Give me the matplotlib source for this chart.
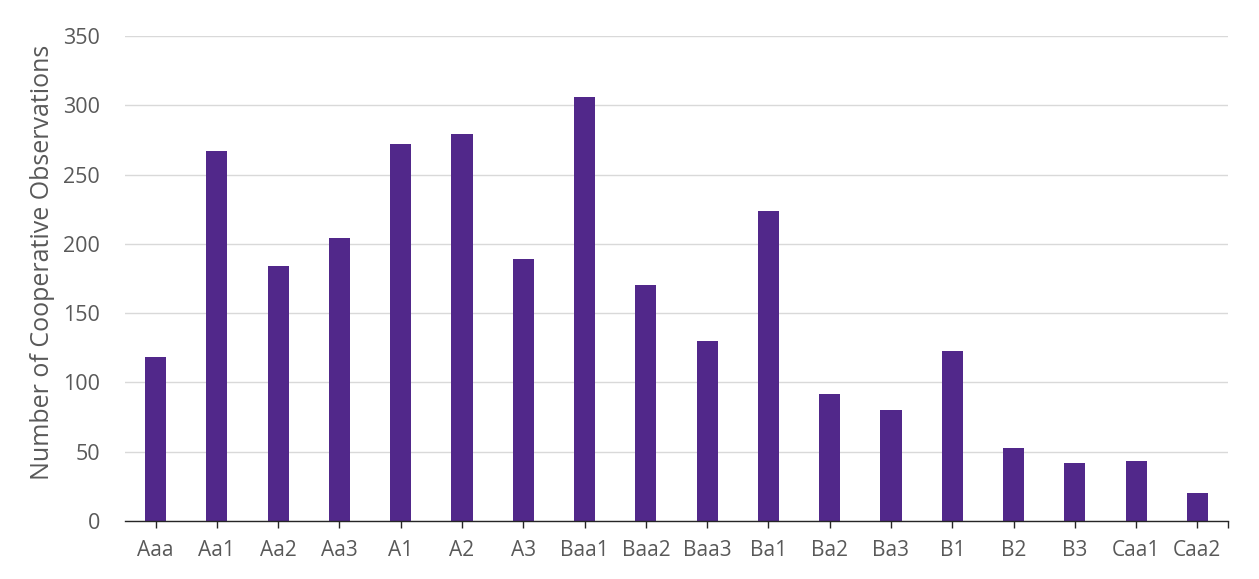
import matplotlib
matplotlib.use("Agg")
import matplotlib.pyplot as plt
import numpy as np

plt.rcParams["font.family"] = ["Open Sans", "DejaVu Sans"]

# ─── data ────────────────────────────────────────────────────────────────────
ratings = ["Aaa", "Aa1", "Aa2", "Aa3", "A1", "A2", "A3", "Baa1", "Baa2",
           "Baa3", "Ba1", "Ba2", "Ba3", "B1", "B2", "B3", "Caa1", "Caa2"]
observations = [118, 267, 184, 204, 272, 279, 189, 306, 170,
                130, 224, 92, 80, 123, 53, 42, 43, 20]
y_ticks = [0, 50, 100, 150, 200, 250, 300, 350]

BAR = "#51288A"
TXT = "#595959"
GRID = "#D9D9D9"

fig = plt.figure(figsize=(12.59, 5.79), dpi=100)
ax = fig.add_axes([125 / 1259, 1 - 521 / 579, 1103 / 1259, 485 / 579])

x = np.arange(len(ratings))
ax.bar(x, observations, width=0.345, color=BAR, zorder=3)

ax.set_xlim(-0.5, len(ratings) - 0.5)
ax.set_ylim(0, 350)
ax.set_yticks(y_ticks)
ax.set_xticks(x)
ax.set_xticklabels(ratings)
ax.set_xticks([len(ratings) - 0.5], minor=True)

ax.grid(axis="y", color=GRID, linewidth=1, zorder=0)
for side in ("left", "right", "top"):
    ax.spines[side].set_visible(False)
ax.spines["bottom"].set_color("#262626")
ax.spines["bottom"].set_linewidth(1.0)
ax.spines["bottom"].set_zorder(4)

ax.tick_params(axis="y", length=0, pad=18, labelsize=15.5, labelcolor=TXT)
ax.tick_params(axis="x", which="both", length=5, width=1, color="#262626",
               pad=9, labelsize=15, labelcolor=TXT)

ax.set_ylabel("Number of Cooperative Observations", fontsize=18,
              color=TXT, va="center")
ax.yaxis.set_label_coords(-0.075, 0.533)

fig.savefig("out.png", dpi=100, facecolor="white")
